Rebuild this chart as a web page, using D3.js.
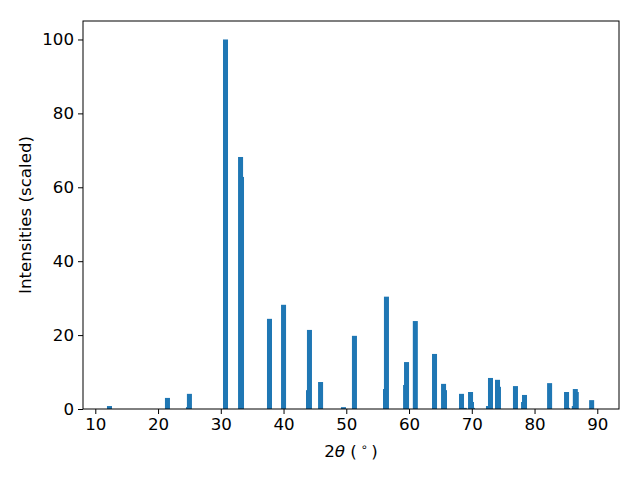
<!DOCTYPE html>
<html>
<head>
<meta charset="utf-8">
<script src="https://cdn.jsdelivr.net/npm/d3@7"></script>
<style>
  html, body { margin: 0; padding: 0; background: #fff; }
  svg text { font-family: "DejaVu Sans", sans-serif; }
</style>
</head>
<body>
<svg id="chart" width="640" height="480"></svg>
<script>
// 2-theta positions (degrees)
const twoTheta = [12.26, 21.5, 24.85, 25.0, 30.75, 33.15, 33.3, 37.76, 40.0, 43.98, 44.13, 45.9, 49.55, 51.3,
  56.25, 56.4, 59.45, 59.6, 61.0, 64.06, 65.5, 65.65, 68.36, 68.8, 69.8, 69.95, 70.1, 72.66, 72.98,
  74.1, 74.25, 76.96, 78.25, 78.4, 82.4, 85.1, 85.25, 86.34, 86.5, 86.65, 89.1];
// scaled intensities
const intensities = [0.8, 3.0, 0.5, 4.1, 100, 68.2, 62.8, 24.4, 28.2, 5.1, 21.4, 7.3, 0.5, 19.8,
  5.4, 30.4, 6.5, 12.7, 23.8, 14.9, 6.8, 5.1, 4.1, 0.3, 4.6, 1.9, 0.3, 0.8, 8.4,
  7.9, 6.0, 6.2, 1.9, 3.8, 7.0, 4.6, 0.3, 0.8, 5.4, 4.6, 2.4];
const xTicks = [10, 20, 30, 40, 50, 60, 70, 80, 90];
const yTicks = [0, 20, 40, 60, 80, 100];
const barWidth = 0.8;

const svg = d3.select("#chart");
const L = 83, R = 619, T = 21, B = 409;

const x = d3.scaleLinear().domain([8.04, 93.46]).range([L, R]);
const y = d3.scaleLinear().domain([0, 105]).range([B, T]);

const data = twoTheta.map((t, i) => ({ t, v: intensities[i] }));

svg.append("g").selectAll("rect").data(data).enter().append("rect")
  .attr("x", d => x(d.t - barWidth / 2))
  .attr("width", d => x(d.t + barWidth / 2) - x(d.t - barWidth / 2))
  .attr("y", d => y(d.v))
  .attr("height", d => y(0) - y(d.v))
  .attr("fill", "#1f77b4");

const fs = "16.67px";
const xAxis = svg.append("g").attr("transform", `translate(0,${B})`)
  .call(d3.axisBottom(x).tickValues(xTicks).tickSize(5).tickPadding(4).tickSizeOuter(0));
const yAxis = svg.append("g").attr("transform", `translate(${L},0)`)
  .call(d3.axisLeft(y).tickValues(yTicks).tickSize(5).tickPadding(4).tickSizeOuter(0));
[xAxis, yAxis].forEach(g => {
  g.select(".domain").remove();
  g.selectAll("line").attr("stroke", "#000").attr("stroke-width", 1);
  g.selectAll("text").attr("font-size", fs).attr("fill", "#000")
    .attr("font-family", "DejaVu Sans, sans-serif");
});

svg.append("rect").attr("x", L).attr("y", T).attr("width", R - L).attr("height", B - T)
  .attr("fill", "none").attr("stroke", "#000").attr("stroke-width", 1);

// x label
const xl = svg.append("text").attr("x", (L + R) / 2).attr("y", 457)
  .attr("text-anchor", "middle").attr("font-size", fs).attr("fill", "#000");
xl.append("tspan").text("2");
xl.append("tspan").attr("font-style", "italic").text("θ");
xl.append("tspan").text(" (");
xl.append("tspan").attr("font-size", "11.5px").attr("dy", -6).text(" ∘ ");
xl.append("tspan").attr("dy", 6).text(")");

// y label
svg.append("text").attr("transform", `translate(31,${(T + B) / 2}) rotate(-90)`)
  .attr("text-anchor", "middle").attr("font-size", fs).attr("fill", "#000")
  .text("Intensities (scaled)");
</script>
</body>
</html>
